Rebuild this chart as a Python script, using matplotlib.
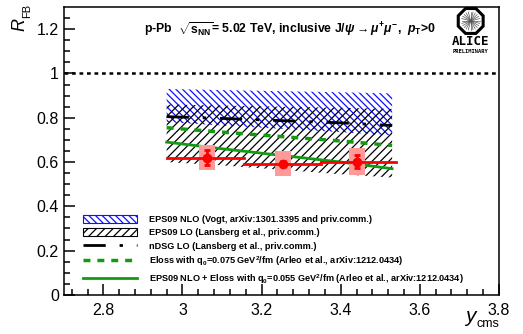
import numpy as np
import matplotlib
matplotlib.use('Agg')
import matplotlib.pyplot as plt
from matplotlib.patches import Patch, Rectangle, RegularPolygon
from matplotlib.lines import Line2D

plt.rcParams['font.family'] = ['Liberation Sans', 'DejaVu Sans']
plt.rcParams['mathtext.fontset'] = 'custom'
plt.rcParams['mathtext.rm'] = 'Liberation Sans:bold'
plt.rcParams['mathtext.bf'] = 'Liberation Sans:bold'
plt.rcParams['mathtext.it'] = 'Liberation Sans:italic:bold'
plt.rcParams['mathtext.sf'] = 'Liberation Sans:bold'
plt.rcParams['hatch.linewidth'] = 0.9

# data points (ALICE preliminary)
bin_lo = [2.96, 3.155, 3.35]
bin_hi = [3.155, 3.35, 3.54]
y_pts = [3.063, 3.254, 3.442]
rfb = [0.62, 0.593, 0.602]
stat = [0.035, 0.013, 0.03]
syst = [0.055, 0.057, 0.06]

# theory curves
y_th = [2.96, 3.1, 3.25, 3.4, 3.53]
nlo_hi = [0.93, 0.925, 0.92, 0.915, 0.91]
nlo_lo = [0.78, 0.765, 0.75, 0.735, 0.72]
lo_hi = [0.86, 0.855, 0.85, 0.845, 0.84]
lo_lo = [0.60, 0.585, 0.565, 0.545, 0.53]
ndsg = [0.805, 0.797, 0.787, 0.777, 0.765]
eloss = [0.755, 0.735, 0.715, 0.695, 0.675]
nlo_eloss = [0.69, 0.66, 0.63, 0.60, 0.57]

labels = ['EPS09 NLO (Vogt, arXiv:1301.3395 and priv.comm.)',
          'EPS09 LO (Lansberg et al., priv.comm.)',
          'nDSG LO (Lansberg et al., priv.comm.)',
          r'Eloss with q$_0$=0.075 GeV$^2$/fm (Arleo et al., arXiv:1212.0434)',
          r'EPS09 NLO + Eloss with q$_0$=0.055 GeV$^2$/fm (Arleo et al., arXiv:1212.0434)']

green = '#129a12'
blue = '#1010ff'
ndsg_style = (0, (8, 5, 1.2, 5))

fig = plt.figure(figsize=(5.23, 3.34), dpi=100)
ax = fig.add_axes([0.122, 0.117, 0.832, 0.862])

ax.fill_between(y_th, nlo_lo, nlo_hi, facecolor='none', edgecolor=blue,
                hatch='\\\\\\\\\\', linewidth=0)
ax.fill_between(y_th, lo_lo, lo_hi, facecolor='none', edgecolor='black',
                hatch='////', linewidth=0)
ax.plot(y_th, ndsg, color='black', lw=2, linestyle=ndsg_style)
ax.plot(y_th, eloss, color=green, lw=2.5, linestyle=(0, (2, 2)))
ax.plot(y_th, nlo_eloss, color=green, lw=2)

for i in range(len(y_pts)):
    ax.add_patch(Rectangle((y_pts[i] - 0.02, rfb[i] - syst[i]), 0.04, 2 * syst[i],
                           facecolor='#ff9a9a', edgecolor='none', zorder=3))
    ax.plot([bin_lo[i], bin_hi[i]], [rfb[i], rfb[i]], color='red', lw=2, zorder=4)
ax.errorbar(y_pts, rfb, yerr=stat, fmt='o', color='red', ms=6, lw=2,
            capsize=2, capthick=2, zorder=5)

ax.axhline(1.0, color='black', lw=1.8, linestyle=(0, (1.5, 1.5)))

ax.set_xlim(2.7, 3.8)
ax.set_ylim(0, 1.3)
ax.set_xticks(np.arange(2.8, 3.81, 0.2))
ax.set_xticks(np.arange(2.72, 3.8, 0.04), minor=True)
ax.set_yticks(np.arange(0, 1.21, 0.2))
ax.set_yticks(np.arange(0, 1.3, 0.05), minor=True)
ax.set_xticklabels(['2.8', '3', '3.2', '3.4', '3.6', '3.8'])
ax.set_yticklabels(['0', '0.2', '0.4', '0.6', '0.8', '1', '1.2'])
ax.tick_params(which='both', direction='in', labelsize=11.5, width=1.1)
ax.tick_params(which='major', length=8)
ax.tick_params(which='minor', length=4)
ax.tick_params(axis='x', pad=6)
for s in ax.spines.values():
    s.set_linewidth(1.1)

# axis titles, ROOT style
fig.text(0.038, 0.908, 'R', rotation=90, style='italic', fontsize=13, ha='center', va='bottom')
fig.text(0.052, 0.945, 'FB', rotation=90, fontsize=8, ha='center', va='bottom')
fig.text(0.889, 0.025, 'y', style='italic', fontsize=15, ha='left', va='bottom')
fig.text(0.912, 0.012, 'cms', fontsize=9, ha='left', va='bottom')

ax.text(0.52, 0.922,
        r'p-Pb  $\sqrt{\mathrm{s_{NN}}}$= 5.02 TeV, inclusive J/$\psi\rightarrow\mu^{+}\mu^{-}$,  $p_{\mathrm{T}}$>0',
        transform=ax.transAxes, ha='center', va='center', fontsize=8.8, fontweight='bold')

handles = [Patch(facecolor='none', edgecolor=blue, hatch='\\\\\\\\\\', linewidth=0.8),
           Patch(facecolor='none', edgecolor='black', hatch='////', linewidth=0.8),
           Line2D([], [], color='black', lw=2, linestyle=ndsg_style),
           Line2D([], [], color=green, lw=2.5, linestyle=(0, (2, 2))),
           Line2D([], [], color=green, lw=2)]
ax.legend(handles, labels, loc='lower left', bbox_to_anchor=(0.03, 0.01), frameon=False,
          prop={'size': 6.6, 'weight': 'bold'}, handlelength=5.9, handleheight=1.0,
          labelspacing=0.42, handletextpad=1.25, borderpad=0.2)

# ALICE logo
lax = fig.add_axes([0.845, 0.815, 0.11, 0.165])
lax.set_xlim(-1, 1)
lax.set_ylim(-1.6, 1.1)
lax.set_aspect('equal')
lax.axis('off')
lax.add_patch(RegularPolygon((0, 0.4), 8, radius=0.66, orientation=np.pi / 8,
                             facecolor='white', edgecolor='black', lw=2.2))
ang = np.linspace(0, 2 * np.pi, 24, endpoint=False)
for a in ang:
    lax.plot([0, 0.45 * np.cos(a)], [0.4, 0.4 + 0.45 * np.sin(a)], color='#555555', lw=0.5)
lax.text(0, -0.6, 'ALICE', ha='center', va='center', fontsize=9, fontweight='bold',
         family='DejaVu Sans Mono')
lax.text(0, -1.1, 'PRELIMINARY', ha='center', va='center', fontsize=3.9,
         fontweight='bold', family='DejaVu Sans Mono')

fig.savefig('out.png', dpi=100)
